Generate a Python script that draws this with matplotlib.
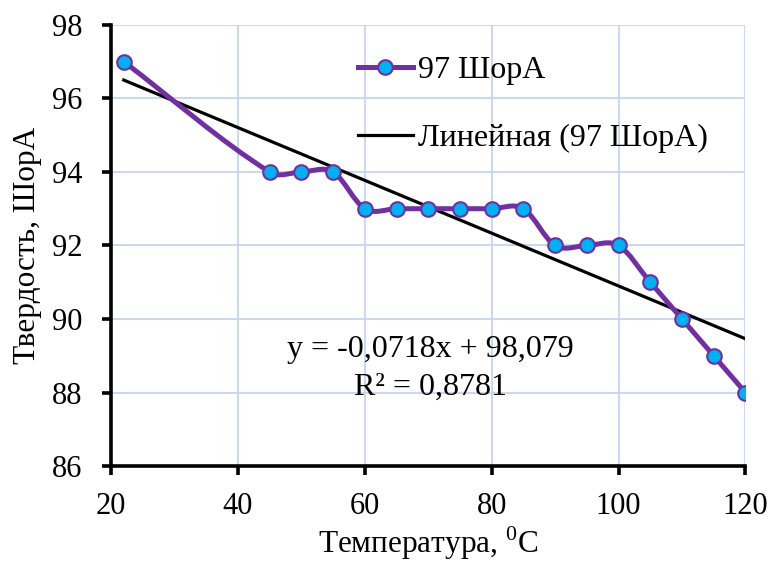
import numpy as np
import matplotlib.pyplot as plt
from matplotlib.path import Path
from matplotlib.patches import PathPatch
from matplotlib.lines import Line2D

plt.rcParams['font.family'] = ['Liberation Serif', 'DejaVu Serif']
plt.rcParams['mathtext.fontset'] = 'custom'
plt.rcParams['mathtext.rm'] = 'Liberation Serif'

# data
temp = [22, 45, 50, 55, 60, 65, 70, 75, 80, 85, 90, 95, 100, 105, 110, 115, 120]
hardness = [97, 94, 94, 94, 93, 93, 93, 93, 93, 93, 92, 92, 92, 91, 90, 89, 88]
series_name = '97 ШорА'
trend_name = 'Линейная (97 ШорА)'
slope, intercept = -0.0718, 98.079
eq_text = 'y = -0,0718x + 98,079\nR² = 0,8781'

purple = '#7030a0'
cyan = '#00b0f0'
grid_col = '#c5d5ee'


def smooth_path(x, y):
    """ smoothed line (hermite segments in x) as bezier path """
    x = np.asarray(x, dtype=float)
    y = np.asarray(y, dtype=float)
    n = len(x)
    m = np.zeros(n)
    m[0] = (y[1] - y[0]) / (x[1] - x[0])
    m[-1] = (y[-1] - y[-2]) / (x[-1] - x[-2])
    for i in range(1, n - 1):
        m[i] = (y[i + 1] - y[i - 1]) / (x[i + 1] - x[i - 1])
    verts = [(x[0], y[0])]
    codes = [Path.MOVETO]
    for i in range(n - 1):
        h = x[i + 1] - x[i]
        verts += [(x[i] + h / 3, y[i] + m[i] * h / 3),
                  (x[i + 1] - h / 3, y[i + 1] - m[i + 1] * h / 3),
                  (x[i + 1], y[i + 1])]
        codes += [Path.CURVE4] * 3
    return Path(verts, codes)


fig = plt.figure(figsize=(7.78, 5.65), dpi=100)
ax = fig.add_axes([0.1427, 0.175, 0.8155, 0.781])

ax.set_xlim(20, 120)
ax.set_ylim(86, 98)
ax.set_xticks(np.arange(20, 121, 20))
ax.set_yticks(np.arange(86, 99, 2))
ax.grid(True, color=grid_col, linewidth=1.3)
ax.set_axisbelow(True)

for s in ['top', 'right']:
    ax.spines[s].set_visible(False)
for s in ['left', 'bottom']:
    ax.spines[s].set_linewidth(2.6)
ax.tick_params(axis='both', direction='out', length=6.5, width=2.6,
               labelsize=22)
ax.tick_params(axis='y', pad=14)
ax.tick_params(axis='x', pad=12)

# trendline
xt = np.array([temp[0], temp[-1]])
ax.plot(xt, slope * xt + intercept, color='black', linewidth=2.3, zorder=3)

# smoothed series + markers
ax.add_patch(PathPatch(smooth_path(temp, hardness), facecolor='none',
                       edgecolor=purple, linewidth=3.6, zorder=4,
                       capstyle='round', joinstyle='round'))
ax.plot(temp, hardness, linestyle='none', marker='o', markersize=10.5,
        markerfacecolor=cyan, markeredgecolor=purple, markeredgewidth=1.5,
        zorder=5)

ax.text(0.503, 0.222, eq_text, transform=ax.transAxes, ha='center',
        va='center', fontsize=23, linespacing=1.42)

ax.set_xlabel('Температура, $^{\\mathregular{0}}$C', fontsize=22.5)
ax.set_ylabel('Твердость, ШорА', fontsize=22.5)
ax.xaxis.set_label_coords(0.5, -0.132)
ax.yaxis.set_label_coords(-0.108, 0.5)

handles = [
    Line2D([], [], color=purple, linewidth=3.6, marker='o', markersize=10.5,
           markerfacecolor=cyan, markeredgecolor=purple, markeredgewidth=1.5),
    Line2D([], [], color='black', linewidth=2.3),
]
ax.legend(handles, [series_name, trend_name], loc='upper left',
          bbox_to_anchor=(0.389, 0.93), frameon=False, fontsize=23,
          handlelength=1.72, handletextpad=0.15, labelspacing=1.22,
          borderpad=0, borderaxespad=0)

fig.savefig('out.png', dpi=100)
